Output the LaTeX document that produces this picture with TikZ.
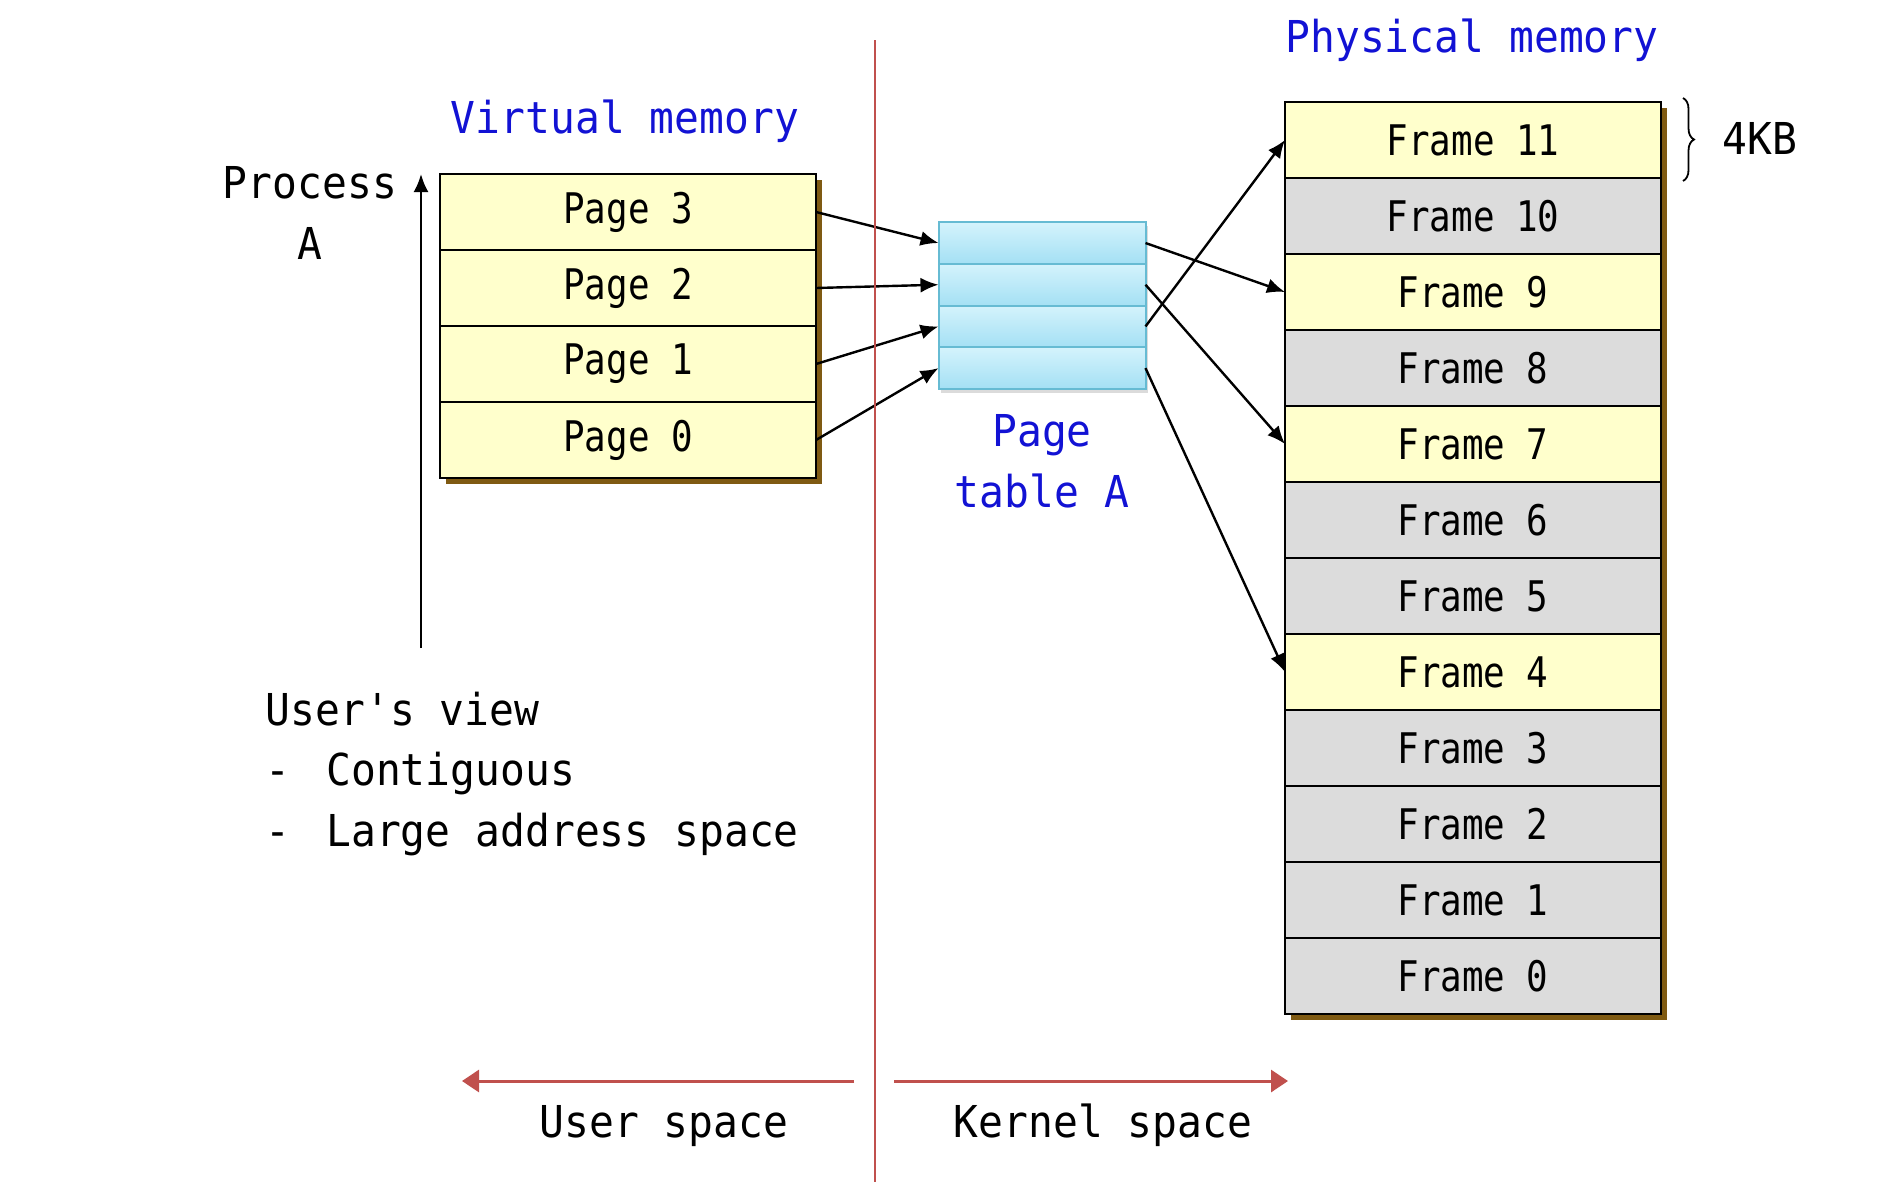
\documentclass[tikz,border=0pt]{standalone}
\usepackage{fontspec}
\newfontfamily\lblfont[FakeStretch=0.94]{DejaVu Sans Mono}
\newfontfamily\boxfont[FakeStretch=0.85]{DejaVu Sans Mono}
\usepackage{xcolor}
\definecolor{pageyel}{HTML}{FFFFCC}
\definecolor{framegray}{HTML}{DCDCDC}
\definecolor{shadebrown}{HTML}{7F5A12}
\definecolor{tabtop}{HTML}{D4F3FC}
\definecolor{tabbot}{HTML}{A4E0F4}
\definecolor{tabedge}{HTML}{66BBD3}
\definecolor{linkred}{HTML}{C0504D}
\definecolor{lblblue}{HTML}{1212D4}
\usepackage{tikz}
\usetikzlibrary{arrows.meta,positioning,calc,backgrounds,decorations.pathreplacing}

\begin{document}
\begin{tikzpicture}[
  x=0.1mm,y=-0.1mm,
  every node/.style={font=\lblfont\fontsize{12.5}{17.1}\selectfont,inner sep=0pt},
  pg/.style={draw,line width=0.28mm,fill=pageyel,outer sep=0pt,minimum width=37.6mm,minimum height=7.6mm,font=\boxfont\fontsize{12}{14}\selectfont},
  fy/.style={pg},
  fg/.style={pg,fill=framegray},
  pt/.style={draw=tabedge,line width=0.2mm,top color=tabtop,bottom color=tabbot,outer sep=0pt,minimum width=20.7mm,minimum height=4.17mm},
  blu/.style={text=lblblue},
  ar/.style={-{Latex[length=1.8mm,width=1.5mm]},line width=0.24mm},
  rd/.style={-{Triangle[length=1.7mm,width=2.2mm]},draw=linkred,line width=0.3mm}
]
\useasboundingbox (0,0) rectangle (1881,1182);

% virtual memory
\node[pg] (p3) at (628,212) {Page 3};
\node[pg,below=0pt of p3] (p2) {Page 2};
\node[pg,below=0pt of p2] (p1) {Page 1};
\node[pg,below=0pt of p1] (p0) {Page 0};
\node[blu,anchor=base] (vmlbl) at (625,133) {Virtual memory};

% page table
\node[pt] (t1) at (1042,243) {};
\node[pt,below=0pt of t1] (t2) {};
\node[pt,below=0pt of t2] (t3) {};
\node[pt,below=0pt of t3] (t4) {};
\node[blu,align=center,anchor=base] (ptlbl) at (1042,507) {Page\\table A};

% physical memory
\node[fy] (f11) at (1473,140) {Frame 11};
\node[fg,below=0pt of f11] (f10) {Frame 10};
\node[fy,below=0pt of f10] (f9) {Frame 9};
\node[fg,below=0pt of f9] (f8) {Frame 8};
\node[fy,below=0pt of f8] (f7) {Frame 7};
\node[fg,below=0pt of f7] (f6) {Frame 6};
\node[fg,below=0pt of f6] (f5) {Frame 5};
\node[fy,below=0pt of f5] (f4) {Frame 4};
\node[fg,below=0pt of f4] (f3) {Frame 3};
\node[fg,below=0pt of f3] (f2) {Frame 2};
\node[fg,below=0pt of f2] (f1) {Frame 1};
\node[fg,below=0pt of f1] (f0) {Frame 0};
\node[blu,anchor=base] (pmlbl) at (1472,52) {Physical memory};

\begin{scope}[on background layer]
\fill[shadebrown] ($(p3.north west)+(6,6)$) rectangle ($(p0.south east)+(6,6)$);
\fill[shadebrown] ($(f11.north west)+(6,6)$) rectangle ($(f0.south east)+(6,6)$);
\fill[black!14] ($(t1.north west)+(2,4)$) rectangle ($(t4.south east)+(2,4)$);
\end{scope}

% 4KB brace
\coordinate (brt) at ($(f11.north east)+(22,-4)$);
\coordinate (brb) at ($(f11.south east)+(22,3)$);
\draw[decorate,decoration={brace,amplitude=1.1mm},line width=0.18mm] (brt) -- (brb);
\node[anchor=west] (kb) at (1722,138) {4KB};

% mappings
\draw[ar] (p3.east) -- (t1.west); \draw[ar] (p2.east) -- (t2.west);
\draw[ar] (p1.east) -- (t3.west); \draw[ar] (p0.east) -- (t4.west);
\draw[ar] (t1.east) -- (f9.west); \draw[ar] (t2.east) -- (f7.west);
\draw[ar] (t3.east) -- (f11.west); \draw[ar] (t4.east) -- (f4.west);

% process view
\node[align=center,anchor=base] (proc) at (310,259) {Process\\A};
\coordinate (vb) at (421,648); \coordinate (vt) at (421,174);
\draw[ar] (vb) -- (vt);
\node[align=left,anchor=base west] (view) at (265,846) {User's view\\- \hspace{1.1mm}Contiguous\\- \hspace{1.1mm}Large address space};

% user / kernel split
\coordinate (divtop) at (875,40); \coordinate (divbot) at (875,1182);
\draw[linkred,line width=0.2mm] (divtop) -- (divbot);
\coordinate (ua) at (854,1081); \coordinate (ub) at (462,1081);
\coordinate (ka) at (894,1081); \coordinate (kz) at (1288,1081);
\draw[rd] (ua) -- (ub); \draw[rd] (ka) -- (kz);
\node[anchor=base] (usr) at (664,1137) {User space};
\node[anchor=base] (krn) at (1103,1137) {Kernel space};
\end{tikzpicture}
\end{document}
